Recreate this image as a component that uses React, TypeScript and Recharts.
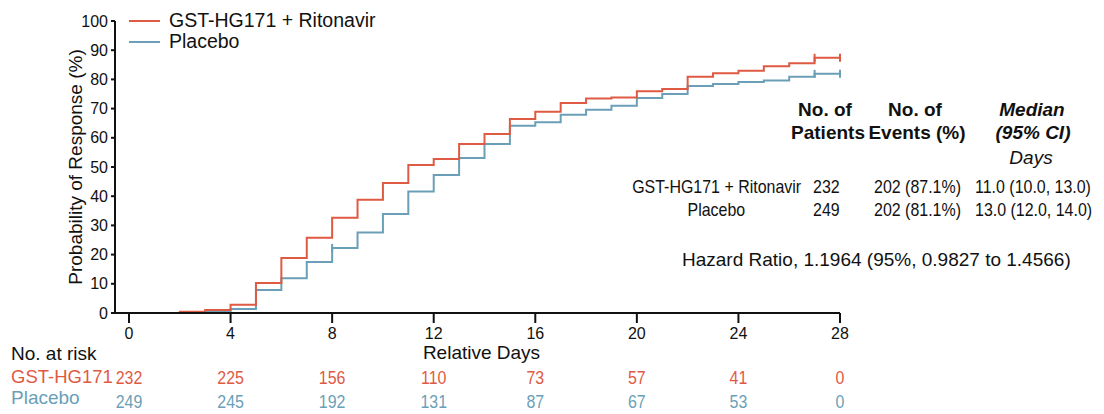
import { ComposedChart, Line, XAxis, YAxis, Legend } from 'recharts';

const days = [0, 2, 3, 4, 5, 6, 7, 8, 9, 10, 11, 12, 13, 14, 15, 16, 17, 18, 19, 20, 21, 22, 23, 24, 25, 26, 27, 28];
const hg171 = [0, 0.4, 1.0, 2.8, 10.3, 18.8, 25.8, 32.6, 38.8, 44.5, 50.7, 52.7, 57.9, 61.3, 66.4, 68.9, 71.9, 73.5, 73.8, 75.9, 76.7, 80.9, 82.1, 83.0, 84.5, 85.5, 87.4, 87.4];
const placebo = [0, 0, 0.5, 1.4, 7.9, 11.9, 17.5, 22.3, 27.6, 33.9, 41.6, 47.3, 53.1, 57.9, 64.1, 65.3, 67.9, 69.6, 71.0, 73.6, 75.0, 77.7, 78.4, 79.1, 79.6, 80.9, 81.9, 81.9];
const hg171Censored = [27, 28];
const placeboCensored = [8, 27, 28];

const dayTicks = [0, 4, 8, 12, 16, 20, 24, 28];
const hg171AtRisk = [232, 225, 156, 110, 73, 57, 41, 0];
const placeboAtRisk = [249, 245, 192, 131, 87, 67, 53, 0];
const yTicks = [0, 10, 20, 30, 40, 50, 60, 70, 80, 90, 100];

const RED = '#df5a43';
const BLUE = '#6b9fb7';
const SANS = "'Liberation Sans', Arial, Helvetica, sans-serif";

const data = days.map((d, i) => ({ day: d, hg171: hg171[i], placebo: placebo[i] }));

const censorDot = (marks: number[], color: string) => (p: any) => {
  if (!marks.includes(p.payload.day)) return <g key={p.index} />;
  return <line key={p.index} x1={p.cx} x2={p.cx} y1={p.cy - 4} y2={p.cy + 4} stroke={color} strokeWidth={2} />;
};

// condensed-looking at-risk numbers
const riskTick = (values: number[], color: string) => (p: any) => (
  <text
    x={0}
    y={0}
    transform={`translate(${p.x},${p.y}) scale(0.84,1)`}
    textAnchor="middle"
    dy="0.71em"
    fill={color}
    fontSize={19}
    fontFamily={SANS}
  >
    {values[dayTicks.indexOf(p.payload.value)]}
  </text>
);

const renderLegend = () => (
  <div style={{ fontFamily: SANS, fontSize: 19.5, color: '#111' }}>
    {[
      { name: 'GST-HG171 + Ritonavir', color: RED },
      { name: 'Placebo', color: BLUE },
    ].map((s) => (
      <div key={s.name} style={{ display: 'flex', alignItems: 'center', height: 21 }}>
        <span style={{ width: 31, height: 2, background: s.color, marginRight: 9 }} />
        <span>{s.name}</span>
      </div>
    ))}
  </div>
);

const T = ({ x, y, children, align = 'left', size = 19, narrow = false, style = {} }: any) => {
  const lh = Math.round(size * 1.15);
  const pos: any = { position: 'absolute', top: y - lh / 2, lineHeight: lh + 'px', fontSize: size, whiteSpace: 'nowrap' };
  if (align === 'left') pos.left = x;
  else if (align === 'right') { pos.right = 1104 - x; pos.textAlign = 'right'; }
  else { pos.left = x - 200; pos.width = 400; pos.textAlign = 'center'; }
  const origin = align === 'left' ? 'left' : align === 'right' ? 'right' : 'center';
  const inner: any = narrow ? { display: 'inline-block', transform: 'scaleX(0.84)', transformOrigin: origin } : {};
  return (
    <div style={{ ...pos, ...style }}>
      <span style={inner}>{children}</span>
    </div>
  );
};

export default function App() {
  return (
    <div style={{ position: 'absolute', left: 0, top: 0, width: 1104, height: 414, fontFamily: SANS, color: '#111', background: '#fff' }}>
      <ComposedChart width={1104} height={414} data={data} margin={{ top: 21, right: 264, bottom: 3, left: 0 }}>
        <XAxis
          dataKey="day"
          type="number"
          domain={[0, 28]}
          ticks={dayTicks}
          padding={{ left: 14, right: 0 }}
          height={50}
          stroke="#111"
          strokeWidth={2}
          tickSize={10}
          tickMargin={5}
          tick={{ fill: '#111', fontSize: 16, fontFamily: SANS }}
          label={{ value: 'Relative Days', position: 'insideBottom', offset: 4, dx: 4, fill: '#111', fontSize: 19, fontFamily: SANS }}
        />
        <XAxis
          xAxisId="riskA"
          dataKey="day"
          type="number"
          domain={[0, 28]}
          ticks={dayTicks}
          padding={{ left: 14, right: 0 }}
          height={24}
          axisLine={false}
          tickLine={false}
          tickSize={0}
          tickMargin={7}
          tick={riskTick(hg171AtRisk, RED)}
        />
        <XAxis
          xAxisId="riskB"
          dataKey="day"
          type="number"
          domain={[0, 28]}
          ticks={dayTicks}
          padding={{ left: 14, right: 0 }}
          height={24}
          axisLine={false}
          tickLine={false}
          tickSize={0}
          tickMargin={7}
          tick={riskTick(placeboAtRisk, BLUE)}
        />
        <YAxis
          type="number"
          domain={[0, 100]}
          ticks={yTicks}
          width={115}
          stroke="#111"
          strokeWidth={2}
          tickSize={4}
          tickMargin={3}
          tick={{ fill: '#111', fontSize: 16, fontFamily: SANS }}
          label={{ value: 'Probability of Response (%)', angle: -90, position: 'insideLeft', offset: 75, fill: '#111', fontSize: 19, fontFamily: SANS, style: { textAnchor: 'middle' } }}
        />
        <Legend
          content={renderLegend}
          layout="vertical"
          align="center"
          verticalAlign="middle"
          wrapperStyle={{ left: 129, top: 10, width: 300 }}
        />
        <Line
          dataKey="placebo"
          name="Placebo"
          type="stepAfter"
          stroke={BLUE}
          strokeWidth={2}
          dot={censorDot(placeboCensored, BLUE)}
          activeDot={false}
          isAnimationActive={false}
        />
        <Line
          dataKey="hg171"
          name="GST-HG171 + Ritonavir"
          type="stepAfter"
          stroke={RED}
          strokeWidth={2}
          dot={censorDot(hg171Censored, RED)}
          activeDot={false}
          isAnimationActive={false}
        />
      </ComposedChart>

      <T x={825} y={110} align="center" style={{ fontWeight: 'bold' }}>No. of</T>
      <T x={828} y={133} align="center" style={{ fontWeight: 'bold' }}>Patients</T>
      <T x={915} y={110} align="center" style={{ fontWeight: 'bold' }}>No. of</T>
      <T x={917} y={133} align="center" style={{ fontWeight: 'bold' }}>Events (%)</T>
      <T x={1032} y={110} align="center" style={{ fontWeight: 'bold', fontStyle: 'italic' }}>Median</T>
      <T x={1033} y={133} align="center" style={{ fontWeight: 'bold', fontStyle: 'italic' }}>(95% CI)</T>
      <T x={1031} y={158} align="center" style={{ fontStyle: 'italic' }}>Days</T>

      <T x={801} y={187} align="right" narrow>GST-HG171 + Ritonavir</T>
      <T x={813} y={187} narrow>232</T>
      <T x={874} y={187} narrow>202 (87.1%)</T>
      <T x={975} y={187} narrow>11.0 (10.0, 13.0)</T>
      <T x={716} y={210} align="center" narrow>Placebo</T>
      <T x={813} y={210} narrow>249</T>
      <T x={874} y={210} narrow>202 (81.1%)</T>
      <T x={975} y={210} narrow>13.0 (12.0, 14.0)</T>

      <T x={682} y={260}>Hazard Ratio, 1.1964 (95%, 0.9827 to 1.4566)</T>

      <T x={11} y={354}>No. at risk</T>
      <T x={11} y={376} size={18.5} style={{ color: RED }}>GST-HG171</T>
      <T x={11} y={398} style={{ color: BLUE }}>Placebo</T>
    </div>
  );
}
